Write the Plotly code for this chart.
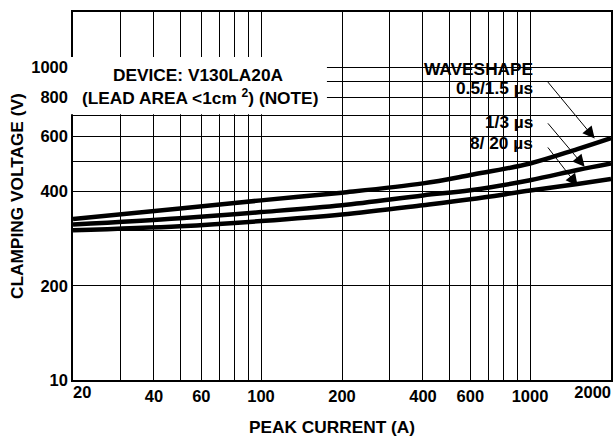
import numpy as np
import plotly.graph_objects as go

# ---- data ----
peak_current = [20, 50, 100, 200, 400, 600, 1000, 1500, 2000]
v_05_15 = [327, 353, 375, 397, 425, 452, 492, 547, 593]
v_1_3 = [314, 329, 344, 362, 389, 404, 435, 469, 492]
v_8_20 = [301, 310, 322, 338, 362, 378, 403, 423, 439]

x_tickvals = [40, 60, 100, 200, 400, 600, 1000]
x_ticktext = ["40", "60", "100", "200", "400", "600", "1000"]
x_first_tick, x_first_text = [20], ["20"]
x_last_tick, x_last_text = [2000], ["2000"]
x_minor = [30, 50, 70, 80, 90, 300, 500, 700, 800, 900]
y_tickvals = [100, 200, 400, 600, 800, 1000]
y_ticktext = ["10", "200", "400", "600", "800", "1000"]
y_minor = [300, 500, 700, 900]

# arrow tips (current, voltage) pointing to each curve
arrow_tips = [(1739, 591), (1596, 480), (1504, 417)]
arrow_offsets = [(-48, -58), (-38, -45), (-31, -40)]

FONT = "Liberation Sans, Arial, sans-serif"
FS = 16.5     # tick labels
FA = 17.3     # annotation texts
XR = [np.log10(20) - 1e-5, np.log10(2000) + 1e-5]
TF = dict(family=FONT, size=FS, weight="bold", color="black")

fig = go.Figure()
# the three curves; two of them sit on overlaid x axes sharing the same range,
# which carry the edge tick labels (20 and 2000)
for ys, xa in ((v_05_15, "x"), (v_1_3, "x3"), (v_8_20, "x2")):
    fig.add_trace(go.Scatter(x=peak_current, y=ys, mode="lines", xaxis=xa, yaxis="y",
                             line=dict(color="black", width=4.5, shape="spline"),
                             showlegend=False, hoverinfo="skip"))

edge_axis = dict(type="log", range=XR, automargin=False, overlaying="x", anchor="y",
                 side="bottom", showgrid=False, showline=False, ticks="", zeroline=False,
                 ticklabeloverflow="allow", tickfont=TF)

fig.update_layout(
    template="none",
    width=613, height=437,
    margin=dict(l=73, r=2, t=12, b=57, autoexpand=False),
    paper_bgcolor="white", plot_bgcolor="white",
    font=dict(family=FONT, size=FS, color="black", weight="bold"),
    xaxis=dict(type="log", range=XR, automargin=False,
               tickvals=x_tickvals, ticktext=x_ticktext, ticklabeloverflow="allow",
               showgrid=True, gridcolor="black", gridwidth=1.2,
               minor=dict(tickvals=x_minor, showgrid=True, gridcolor="black", gridwidth=1.2),
               showline=True, linecolor="black", linewidth=1.5, mirror=True,
               ticks="", zeroline=False, tickfont=TF),
    xaxis2=dict(edge_axis, tickvals=x_first_tick, ticktext=x_first_text,
                ticklabelposition="outside right"),
    xaxis3=dict(edge_axis, tickvals=x_last_tick, ticktext=x_last_text,
                ticklabelposition="outside left"),
    yaxis=dict(type="log", range=[2 - 1e-5, np.log10(1500)], automargin=False,
               tickvals=y_tickvals, ticktext=y_ticktext, ticklabeloverflow="allow",
               showgrid=True, gridcolor="black", gridwidth=1.2,
               minor=dict(tickvals=y_minor, showgrid=True, gridcolor="black", gridwidth=1.2),
               showline=True, linecolor="black", linewidth=1.5, mirror=True,
               ticks="", zeroline=False, tickfont=TF),
)

# white boxes behind the texts
fig.add_shape(type="rect", xref="paper", yref="paper", x0=-0.006, x1=0.472, y0=0.722, y1=0.878,
              fillcolor="white", line=dict(width=0), layer="above")
fig.add_shape(type="rect", xref="paper", yref="paper", x0=0.630, x1=0.877, y0=0.606, y1=0.883,
              fillcolor="white", line=dict(width=0), layer="between")

def txt(text, x, y, xanchor="center", **kw):
    fig.add_annotation(text=text, xref="paper", yref="paper", x=x, y=y,
                       xanchor=xanchor, yanchor="middle", showarrow=False,
                       font=dict(family=FONT, size=FA, color="black", weight="bold"), **kw)

txt("DEVICE: V130LA20A", 0.234, 0.8288)
txt("(LEAD AREA &lt;1cm <sup>2</sup>) (NOTE)", 0.236, 0.7698)
txt("WAVESHAPE", 0.8587, 0.8443, xanchor="right")
txt("0.5/1.5 µs", 0.8587, 0.7927, xanchor="right")
txt("1/3 µs", 0.8587, 0.7019, xanchor="right")
txt("8/ 20 µs", 0.8587, 0.6432, xanchor="right")
txt("PEAK CURRENT (A)", 0.4823, -0.128)
txt("CLAMPING VOLTAGE (V)", -0.104, 0.5, textangle=-90)

for (cx, cy), (ax, ay) in zip(arrow_tips, arrow_offsets):
    fig.add_annotation(x=np.log10(cx), y=np.log10(cy), xref="x", yref="y", text="",
                       showarrow=True, ax=ax, ay=ay, arrowhead=2, arrowsize=2.4,
                       arrowwidth=1, arrowcolor="black", standoff=0)

fig.write_html("out.html", config={"displayModeBar": False},
               post_script="document.body.style.margin='0';document.body.style.overflow='hidden';")
